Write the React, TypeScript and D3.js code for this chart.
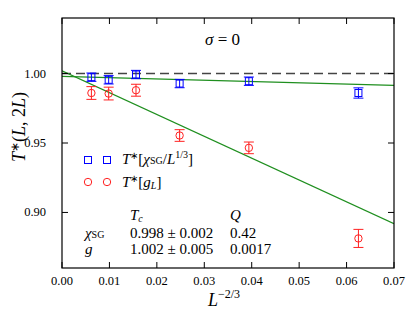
import React from 'react';
import * as d3 from 'd3';

// L^{-2/3} for L = 2048 ... 64
const xVals = [0.0062, 0.00984, 0.0156, 0.0248, 0.0394, 0.0625];
const chiVals = [0.9974, 0.9955, 0.9993, 0.9928, 0.9945, 0.986];
const chiErr = [0.003, 0.003, 0.003, 0.003, 0.003, 0.0037];
const gVals = [0.986, 0.9856, 0.988, 0.9554, 0.9465, 0.8813];
const gErr = [0.0046, 0.0046, 0.0043, 0.0042, 0.0042, 0.0065];

// linear fits: Tc + slope * x
const chiFit = { tc: 0.998, slope: -0.094 };
const gFit = { tc: 1.002, slope: -1.573 };

const xTicks = [0, 0.01, 0.02, 0.03, 0.04, 0.05, 0.06, 0.07];
const yTicks = [0.9, 0.95, 1.0];

const width = 415;
const height = 312;
const left = 62;
const right = 394;
const top = 18;
const bottom = 268;

const blue = '#0000ff';
const red = '#ff2020';
const green = '#1f8f1f';

// inline so nothing else overrides the family
const ff = (size: number, italic = false): React.CSSProperties => ({
  fontFamily: "'Liberation Serif'",
  fontSize: size,
  fontStyle: italic ? 'italic' : 'normal',
});

export default function App() {
  const x = d3.scaleLinear().domain([0, 0.07]).range([left, right]);
  const y = d3.scaleLinear().domain([0.86, 1.04]).range([bottom, top]);

  const fitLine = (f: { tc: number; slope: number }) =>
    d3.line<number>()
      .x(d => x(d))
      .y(d => y(f.tc + f.slope * d))([0, 0.07]) || '';

  const tick = 6;
  const cap = 5;

  return (
    <svg width={width} height={height}
      style={{ position: 'absolute', left: 0, top: 0 }}>
      <rect width={width} height={height} fill="white" />
      <defs>
        <clipPath id="plot">
          <rect x={left} y={top} width={right - left} height={bottom - top} />
        </clipPath>
      </defs>

      {/* reference line at 1 */}
      <line x1={left} x2={right} y1={y(1)} y2={y(1)} stroke="#444" strokeWidth={1.6}
        strokeDasharray="9,5" />

      <g clipPath="url(#plot)">
        <path d={fitLine(chiFit)} stroke={green} strokeWidth={1.2} fill="none" />
        <path d={fitLine(gFit)} stroke={green} strokeWidth={1.2} fill="none" />
      </g>

      {/* chi_SG points */}
      {xVals.map((xv, i) => {
        const cx = x(xv), cy = y(chiVals[i]);
        const y0 = y(chiVals[i] - chiErr[i]), y1 = y(chiVals[i] + chiErr[i]);
        return (
          <g key={'c' + i} stroke={blue} strokeWidth={1} fill="none">
            <line x1={cx} x2={cx} y1={y0} y2={y1} />
            <line x1={cx - cap} x2={cx + cap} y1={y0} y2={y0} />
            <line x1={cx - cap} x2={cx + cap} y1={y1} y2={y1} />
            <rect x={cx - 3.5} y={cy - 3.5} width={7} height={7} />
          </g>
        );
      })}

      {/* g_L points */}
      {xVals.map((xv, i) => {
        const cx = x(xv), cy = y(gVals[i]);
        const y0 = y(gVals[i] - gErr[i]), y1 = y(gVals[i] + gErr[i]);
        return (
          <g key={'g' + i} stroke={red} strokeWidth={1} fill="none">
            <line x1={cx} x2={cx} y1={y0} y2={y1} />
            <line x1={cx - cap} x2={cx + cap} y1={y0} y2={y0} />
            <line x1={cx - cap} x2={cx + cap} y1={y1} y2={y1} />
            <circle cx={cx} cy={cy} r={3.7} />
          </g>
        );
      })}

      {/* frame */}
      <rect x={left} y={top} width={right - left} height={bottom - top} fill="none"
        stroke="black" strokeWidth={1.2} />

      {/* x ticks */}
      {xTicks.map(t => (
        <g key={'x' + t}>
          <line x1={x(t)} x2={x(t)} y1={bottom} y2={bottom - tick} stroke="black" />
          <line x1={x(t)} x2={x(t)} y1={top} y2={top + tick} stroke="black" />
          <text x={x(t)} y={285} style={ff(12.5)} textAnchor="middle">{d3.format('.2f')(t)}</text>
        </g>
      ))}

      {/* y ticks */}
      {yTicks.map(t => (
        <g key={'y' + t}>
          <line x1={left} x2={left + tick} y1={y(t)} y2={y(t)} stroke="black" />
          <line x1={right} x2={right - tick} y1={y(t)} y2={y(t)} stroke="black" />
          <text x={46} y={y(t) + 4} style={ff(12.5)} textAnchor="end">{d3.format('.2f')(t)}</text>
        </g>
      ))}

      {/* axis labels */}
      <text x={208} y={306} style={ff(18, true)}>L
        <tspan style={ff(12)} dy={-8}>−2/3</tspan>
      </text>
      <text transform="translate(25,127) rotate(-90)" style={ff(18)} textAnchor="middle">
        <tspan style={ff(18, true)}>T</tspan>
        <tspan style={ff(12)} dy={-6}>∗</tspan>
        <tspan style={ff(18)} dy={6}>(</tspan>
        <tspan style={ff(18, true)}>L</tspan>
        <tspan style={ff(18)}>, 2</tspan>
        <tspan style={ff(18, true)}>L</tspan>
        <tspan style={ff(18)}>)</tspan>
      </text>

      <text x={205} y={45} style={ff(17)}>
        <tspan style={ff(17, true)}>σ</tspan>
        <tspan style={ff(17)}> = 0</tspan>
      </text>

      {/* legend */}
      <rect x={84.5} y={156.5} width={7} height={7} stroke={blue} fill="none" />
      <rect x={103.5} y={156.5} width={7} height={7} stroke={blue} fill="none" />
      <circle cx={88} cy={182} r={3.7} stroke={red} fill="none" />
      <circle cx={107} cy={182} r={3.7} stroke={red} fill="none" />
      <text x={122} y={164} style={ff(15)}>
        <tspan style={ff(15, true)}>T</tspan>
        <tspan style={ff(10)} dy={-5}>∗</tspan>
        <tspan style={ff(15)} dy={5}>[</tspan>
        <tspan style={ff(15, true)}>χ</tspan>
        <tspan style={ff(10)}>SG</tspan>
        <tspan style={ff(15)}>/</tspan>
        <tspan style={ff(15, true)}>L</tspan>
        <tspan style={ff(10)} dy={-6}>1/3</tspan>
        <tspan style={ff(15)} dy={6}>]</tspan>
      </text>
      <text x={122} y={187} style={ff(15)}>
        <tspan style={ff(15, true)}>T</tspan>
        <tspan style={ff(10)} dy={-5}>∗</tspan>
        <tspan style={ff(15)} dy={5}>[</tspan>
        <tspan style={ff(15, true)}>g</tspan>
        <tspan style={ff(10, true)} dy={2}>L</tspan>
        <tspan style={ff(15)} dy={-2}>]</tspan>
      </text>

      {/* fit table */}
      <text x={130} y={220} style={ff(15, true)}>T<tspan style={ff(10, true)} dy={2}>c</tspan></text>
      <text x={230} y={220} style={ff(15, true)}>Q</text>
      <text x={85} y={238} style={ff(15)}>
        <tspan style={ff(15, true)}>χ</tspan>
        <tspan style={ff(10)}>SG</tspan>
      </text>
      <text x={130} y={238} style={ff(15)}>{'0.998 ± 0.002'}</text>
      <text x={230} y={238} style={ff(15)}>0.42</text>
      <text x={85} y={254} style={ff(15, true)}>g</text>
      <text x={130} y={254} style={ff(15)}>{'1.002 ± 0.005'}</text>
      <text x={230} y={254} style={ff(15)}>0.0017</text>
    </svg>
  );
}
